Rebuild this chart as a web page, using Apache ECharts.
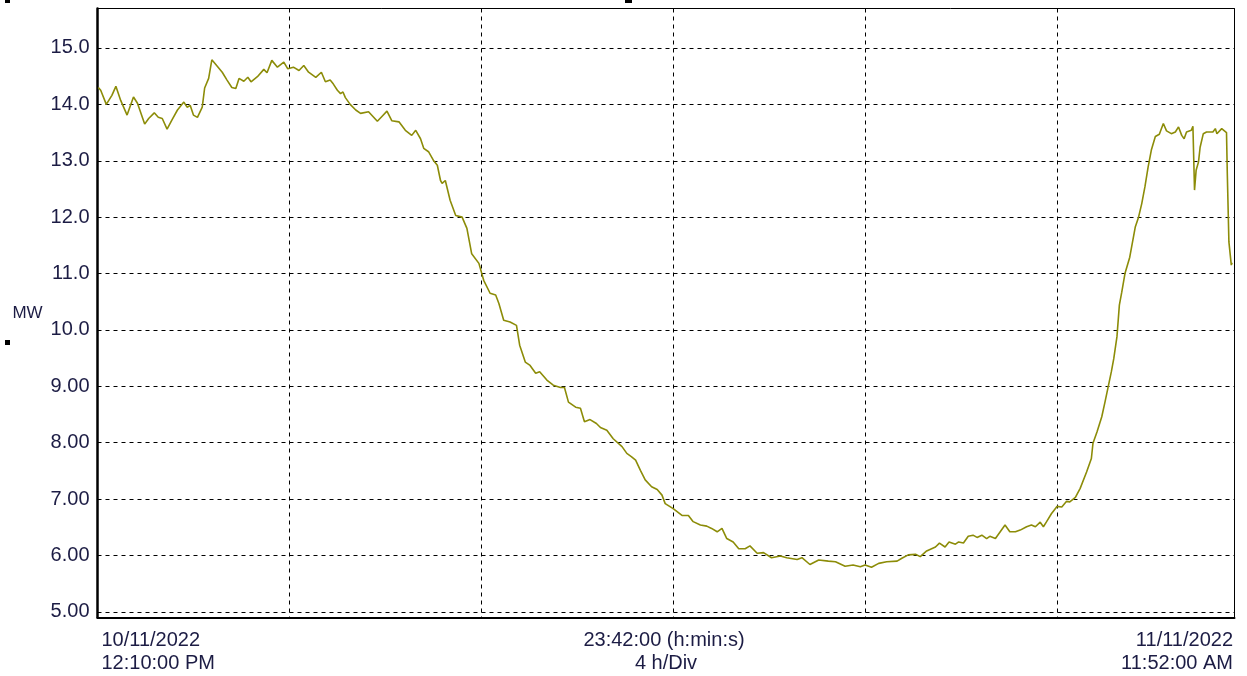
<!DOCTYPE html>
<html>
<head>
<meta charset="utf-8">
<script src="https://cdn.jsdelivr.net/npm/echarts@6/dist/echarts.min.js"></script>
<style>
  html, body { margin: 0; padding: 0; background: #ffffff; }
  #chart { width: 1247px; height: 676px; }
</style>
</head>
<body>
<div id="chart"></div>
<script>
// Minutes elapsed since 10/11/2022 12:10:00 PM
const minutes = [
  1, 4, 11, 18, 23, 29, 37, 45, 50, 59, 64, 71, 76, 81, 87, 93, 100, 108, 112, 116,
  120, 125, 131, 134, 139, 143, 149, 156, 162, 168, 173, 177, 183, 188, 192, 200, 208, 212, 218, 225,
  233, 238, 245, 252, 258, 264, 273, 280, 285, 291, 295, 300, 304, 307, 310, 316, 323, 329, 339, 350,
  356, 362, 368, 377, 385, 393, 398, 404, 408, 414, 420, 425, 429, 431, 435, 441, 448, 456, 462, 468,
  477, 483, 491, 498, 502, 508, 516, 524, 528, 535, 541, 548, 553, 562, 570, 579, 584, 589, 598, 604,
  609, 616, 624, 629, 637, 645, 656, 662, 668, 673, 679, 685, 693, 700, 706, 710, 720, 731, 739, 745,
  754, 762, 768, 775, 781, 787, 795, 802, 810, 816, 825, 833, 843, 854, 862, 875, 881, 891, 902, 914,
  923, 935, 945, 954, 960, 968, 977, 987, 1000, 1006, 1014, 1023, 1029, 1037, 1048, 1053, 1060, 1065, 1073, 1077,
  1083, 1089, 1095, 1100, 1106, 1112, 1116, 1123, 1129, 1135, 1141, 1148, 1154, 1162, 1168, 1173, 1179, 1183, 1187, 1193,
  1200, 1206, 1212, 1216, 1223, 1229, 1237, 1243, 1245, 1250, 1256, 1260, 1264, 1268, 1271, 1275, 1278, 1281, 1285, 1291,
  1298, 1302, 1306, 1310, 1314, 1318, 1323, 1328, 1333, 1337, 1343, 1348, 1352, 1356, 1359, 1362, 1368, 1370, 1372, 1374,
  1377, 1379, 1383, 1387, 1395, 1398, 1400, 1406, 1412, 1413, 1415, 1417, 1418, 1419
];

// Active power, MW
const mw = [
  14.30, 14.25, 14.00, 14.16, 14.32, 14.07, 13.81, 14.13, 14.02, 13.65, 13.75, 13.85, 13.77, 13.75, 13.56, 13.72, 13.90, 14.04, 13.95, 13.98,
  13.81, 13.77, 13.95, 14.29, 14.46, 14.79, 14.69, 14.57, 14.43, 14.30, 14.28, 14.46, 14.41, 14.48, 14.40, 14.49, 14.62, 14.56, 14.78, 14.66,
  14.75, 14.63, 14.66, 14.60, 14.69, 14.57, 14.48, 14.57, 14.40, 14.43, 14.36, 14.25, 14.19, 14.22, 14.12, 14.00, 13.90, 13.84, 13.87, 13.70,
  13.79, 13.88, 13.71, 13.69, 13.54, 13.45, 13.54, 13.39, 13.22, 13.16, 13.01, 12.92, 12.65, 12.60, 12.65, 12.30, 12.03, 12.00, 11.80, 11.35,
  11.18, 10.88, 10.65, 10.62, 10.47, 10.17, 10.14, 10.08, 9.73, 9.43, 9.37, 9.23, 9.26, 9.11, 9.02, 8.98, 8.98, 8.72, 8.63, 8.61,
  8.37, 8.41, 8.34, 8.27, 8.22, 8.07, 7.93, 7.81, 7.75, 7.69, 7.51, 7.34, 7.22, 7.17, 7.07, 6.92, 6.83, 6.71, 6.71, 6.60,
  6.54, 6.52, 6.48, 6.42, 6.48, 6.30, 6.24, 6.12, 6.12, 6.17, 6.04, 6.05, 5.96, 5.99, 5.96, 5.93, 5.96, 5.84, 5.92, 5.90,
  5.89, 5.81, 5.83, 5.80, 5.83, 5.79, 5.86, 5.89, 5.90, 5.95, 6.01, 6.02, 5.98, 6.08, 6.15, 6.22, 6.15, 6.24, 6.20, 6.24,
  6.22, 6.34, 6.36, 6.32, 6.36, 6.30, 6.34, 6.30, 6.42, 6.54, 6.42, 6.42, 6.45, 6.51, 6.54, 6.51, 6.59, 6.51, 6.60, 6.74,
  6.87, 6.86, 6.96, 6.95, 7.03, 7.19, 7.48, 7.72, 7.99, 8.19, 8.46, 8.72, 8.99, 9.26, 9.49, 9.88, 10.44, 10.67, 11.00, 11.29,
  11.83, 12.00, 12.24, 12.54, 12.89, 13.19, 13.43, 13.47, 13.66, 13.53, 13.48, 13.51, 13.60, 13.45, 13.39, 13.51, 13.54, 13.61, 12.48, 12.83,
  12.98, 13.24, 13.48, 13.51, 13.51, 13.57, 13.48, 13.57, 13.50, 12.77, 11.56, 11.56, 11.15, 11.19
];

// Axis text
const unitLabel = 'MW';
const startLabel = ['10/11/2022', '12:10:00 PM'];
const spanLabel = ['23:42:00 (h:min:s)', '4 h/Div'];
const endLabel = ['11/11/2022', '11:52:00 AM'];
const spanMinutes = 1422;  // 23 h 42 min
const divMinutes = 240;    // 4 h per division

const GRID = { left: 97.5, top: 8.5, width: 1137, height: 609 };
const FONT_FAMILY = '"Liberation Sans", Arial, sans-serif';
const FONT = '20px ' + FONT_FAMILY;
const TEXT_COLOR = '#1c1c44';
const LINE_COLOR = '#8c8c08';

function yLabel(v) {
  if (Math.abs(v - Math.round(v)) > 1e-6) return '';
  return v >= 10 ? v.toFixed(1) : v.toFixed(2);
}

const chart = echarts.init(document.getElementById('chart'), null, { renderer: 'canvas' });

const rightX = GRID.left + GRID.width;
const midX = GRID.left + GRID.width / 2;

function textEl(str, x, y, align) {
  return {
    type: 'text', x: x, y: y, silent: true,
    style: { text: str, font: FONT, fill: TEXT_COLOR, align: align, verticalAlign: 'middle' }
  };
}

chart.setOption({
  animation: false,
  backgroundColor: '#ffffff',
  grid: {
    left: GRID.left, top: GRID.top, width: GRID.width, height: GRID.height,
    show: true, borderColor: '#000000', borderWidth: 1, backgroundColor: 'transparent'
  },
  xAxis: {
    type: 'value',
    min: 0, max: spanMinutes, interval: divMinutes,
    axisLine: { show: true, onZero: false, lineStyle: { color: '#000000', width: 2 } },
    axisTick: { show: false },
    axisLabel: { show: false },
    splitLine: { show: true, lineStyle: { color: '#000000', width: 1, type: [4, 4] } }
  },
  yAxis: {
    type: 'value',
    min: 4.9, max: 15.7, splitNumber: 10,
    axisLine: { show: true, onZero: false, lineStyle: { color: '#000000', width: 2.5 } },
    axisTick: { show: false },
    axisLabel: {
      show: true, margin: 8, color: TEXT_COLOR, fontSize: 20,
      fontFamily: FONT_FAMILY,
      formatter: yLabel
    },
    splitLine: { show: true, lineStyle: { color: '#000000', width: 1, type: [4, 4] } }
  },
  series: [{
    type: 'line',
    data: minutes.map((m, i) => [m, mw[i]]),
    showSymbol: false,
    symbol: 'none',
    lineStyle: { color: LINE_COLOR, width: 1.6 },
    silent: true,
    z: 3
  }],
  graphic: [
    { type: 'text', x: 27.5, y: 313, silent: true,
      style: { text: unitLabel, font: '17px ' + FONT_FAMILY, fill: TEXT_COLOR, align: 'center', verticalAlign: 'middle' } },
    textEl(startLabel[0], GRID.left + 4, 640.5, 'left'),
    textEl(startLabel[1], GRID.left + 4, 663.5, 'left'),
    textEl(spanLabel[0], midX - 2, 640.5, 'center'),
    textEl(spanLabel[1], midX, 663.5, 'center'),
    textEl(endLabel[0], rightX - 1.5, 640.5, 'right'),
    textEl(endLabel[1], rightX - 1.5, 663.5, 'right'),
    // small corner markers
    { type: 'rect', silent: true, shape: { x: 5, y: 0, width: 5, height: 3 }, style: { fill: '#000000' } },
    { type: 'rect', silent: true, shape: { x: 625, y: 0, width: 7, height: 3 }, style: { fill: '#000000' } },
    { type: 'rect', silent: true, shape: { x: 5, y: 340, width: 5, height: 5 }, style: { fill: '#000000' } }
  ]
});
</script>
</body>
</html>
